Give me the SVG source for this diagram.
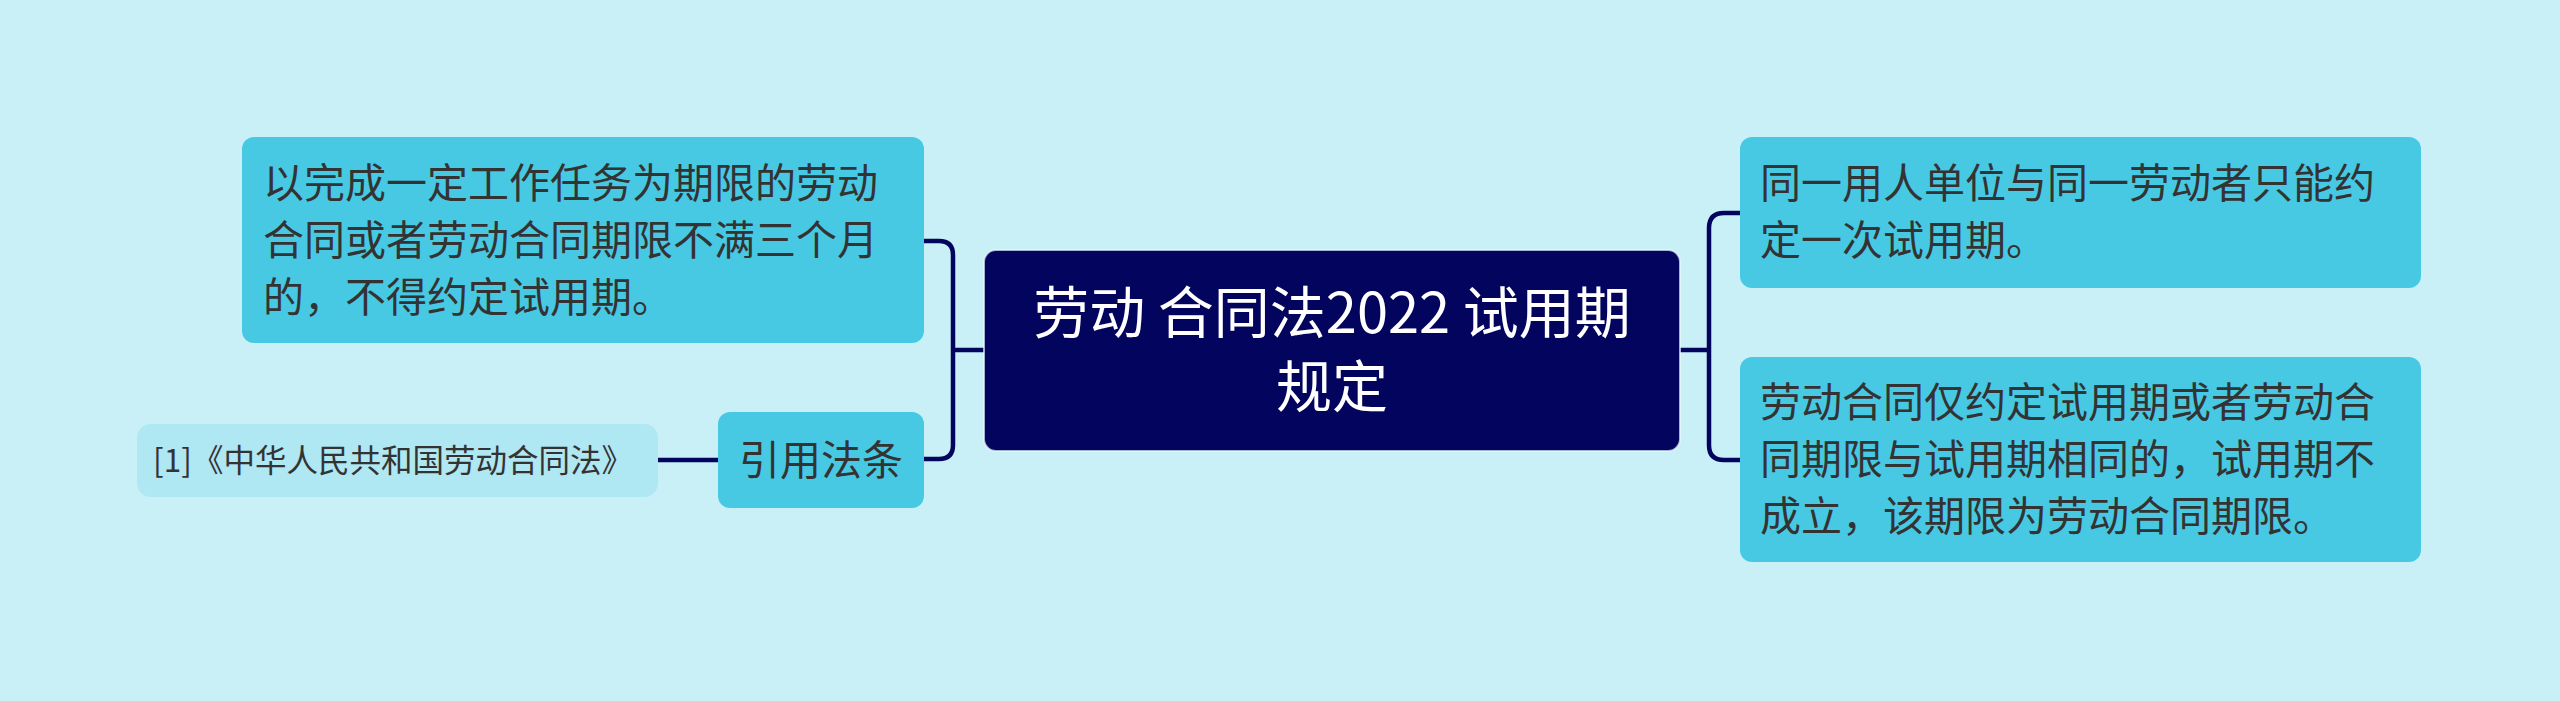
<svg xmlns="http://www.w3.org/2000/svg" width="2560" height="701" viewBox="0 0 2560 701">
  <style>
    .bg { fill: #c9f0f7; }
    .topic { fill: #48c9e3; }
    .ref { fill: #afe7f3; }
    .central { fill: #03045e; stroke: #eafaff; stroke-width: 2; stroke-opacity: 0.7; }
    .txt { font-family: "Noto Sans CJK SC", "Noto Sans", sans-serif; font-size: 41px; fill: #333333; }
    .reftxt { font-family: "Noto Sans CJK SC", "Noto Sans", sans-serif; font-size: 31.5px; fill: #333333; }
    .ctxt { font-family: "Noto Sans CJK SC", "Noto Sans", sans-serif; font-size: 56px; fill: #ffffff; }
    .conn { fill: none; stroke: #03045e; stroke-width: 4.5; stroke-linecap: butt; }
  </style>
  <rect class="bg" x="0" y="0" width="2560" height="701"/>

  <g id="connectors">
    <path class="conn" d="M 984 350 H 953"/>
    <path class="conn" d="M 924 241 H 939 Q 953 241 953 255 V 445 Q 953 459 939 459 H 924"/>
    <path class="conn" d="M 658 460 H 718"/>
    <path class="conn" d="M 1680 350 H 1709"/>
    <path class="conn" d="M 1740 213 H 1724 Q 1709 213 1709 228 V 445 Q 1709 460 1724 460 H 1740"/>
  </g>

  <g id="central">
    <rect class="central" x="984" y="250" width="696" height="201" rx="12"/>
    <text class="ctxt" x="1332" y="333" text-anchor="middle">劳动 合同法2022 试用期</text>
    <text class="ctxt" x="1332" y="407" text-anchor="middle">规定</text>
  </g>

  <g id="node-left-top">
    <rect class="topic" x="242" y="137" width="682" height="206" rx="12"/>
    <text class="txt" x="263" y="198">以完成一定工作任务为期限的劳动</text>
    <text class="txt" x="263" y="255">合同或者劳动合同期限不满三个月</text>
    <text class="txt" x="263" y="312">的，不得约定试用期。</text>
  </g>

  <g id="node-citation">
    <rect class="topic" x="718" y="412" width="206" height="96" rx="12"/>
    <text class="txt" x="821" y="475" text-anchor="middle">引用法条</text>
  </g>

  <g id="node-ref">
    <rect class="ref" x="137" y="424" width="521" height="73" rx="14"/>
    <text class="reftxt" x="393" y="472" text-anchor="middle">[1]《中华人民共和国劳动合同法》</text>
  </g>

  <g id="node-right-top">
    <rect class="topic" x="1740" y="137" width="681" height="151" rx="12"/>
    <text class="txt" x="1760" y="198">同一用人单位与同一劳动者只能约</text>
    <text class="txt" x="1760" y="255">定一次试用期。</text>
  </g>

  <g id="node-right-bottom">
    <rect class="topic" x="1740" y="357" width="681" height="205" rx="12"/>
    <text class="txt" x="1760" y="417">劳动合同仅约定试用期或者劳动合</text>
    <text class="txt" x="1760" y="474">同期限与试用期相同的，试用期不</text>
    <text class="txt" x="1760" y="531">成立，该期限为劳动合同期限。</text>
  </g>
</svg>
